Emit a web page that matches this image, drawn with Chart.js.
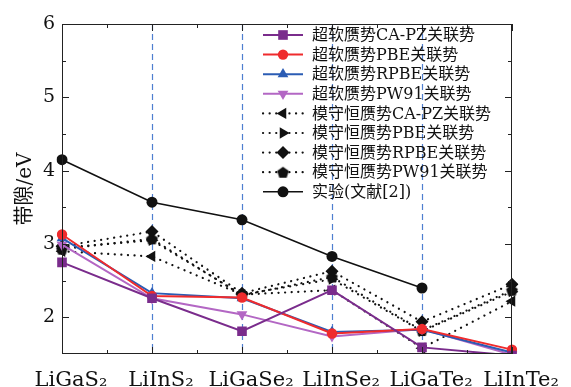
<!DOCTYPE html>
<html>
<head>
<meta charset="utf-8">
<script src="https://cdn.jsdelivr.net/npm/chart.js@4/dist/chart.umd.min.js"></script>
<style>
  html, body { margin: 0; padding: 0; background: #fff; }
  #wrap { width: 571px; height: 387px; }
</style>
</head>
<body>
<div id="wrap"><canvas id="c" width="571" height="387"></canvas></div>
<script>
// Compounds along the x axis
const categories = ['LiGaS\u2082', 'LiInS\u2082', 'LiGaSe\u2082', 'LiInSe\u2082', 'LiGaTe\u2082', 'LiInTe\u2082'];

// Band gaps (eV): ultrasoft pseudopotentials
const usCAPZ = [2.75, 2.26, 1.81, 2.37, 1.59, 1.48];
const usPBE  = [3.13, 2.29, 2.27, 1.78, 1.84, 1.56];
const usRPBE = [3.08, 2.33, 2.26, 1.80, 1.83, 1.52];
const usPW91 = [2.99, 2.26, 2.04, 1.74, 1.84, 1.49];

// Band gaps (eV): norm-conserving pseudopotentials
const ncCAPZ = [2.90, 2.83, 2.31, 2.37, 1.58, 2.22];
const ncPBE  = [2.95, 3.05, 2.31, 2.52, 1.81, 2.35];
const ncRPBE = [2.97, 3.17, 2.33, 2.63, 1.94, 2.45];
const ncPW91 = [2.93, 3.07, 2.30, 2.55, 1.82, 2.37];

// Experimental values (ref. [2]); none for LiInTe2
const expt = [4.15, 3.57, 3.33, 2.83, 2.40, null];

const yTickValues = [2, 3, 4, 5, 6];

const seriesLabels = [
  '超软赝势CA-PZ关联势', '超软赝势PBE关联势', '超软赝势RPBE关联势', '超软赝势PW91关联势',
  '模守恒赝势CA-PZ关联势', '模守恒赝势PBE关联势', '模守恒赝势RPBE关联势', '模守恒赝势PW91关联势',
  '实验(文献[2])'
];

const LATIN = '"DejaVu Serif", "Liberation Serif", "Noto Sans CJK SC", serif';

// small pentagon marker image
function pentagonImage(r, color) {
  const s = Math.ceil(2 * r + 2);
  const c = document.createElement('canvas');
  c.width = s; c.height = s;
  const g = c.getContext('2d');
  g.fillStyle = color;
  g.beginPath();
  for (let k = 0; k < 5; k++) {
    const a = -Math.PI / 2 + k * 2 * Math.PI / 5;
    const px = s / 2 + r * Math.cos(a), py = s / 2 + r * Math.sin(a) + 0.6;
    k ? g.lineTo(px, py) : g.moveTo(px, py);
  }
  g.closePath(); g.fill();
  return c;
}
const pentBlack = pentagonImage(6.2, '#111');

const DOT = [0.1, 6.5];

function solid(label, data, color, style, r, rot) {
  return {
    label, data, borderColor: color, backgroundColor: color,
    pointBackgroundColor: color, pointBorderColor: color,
    borderWidth: 2, pointRadius: r, pointHoverRadius: r, pointStyle: style,
    pointRotation: rot || 0, pointBorderWidth: 0, tension: 0, spanGaps: false
  };
}
function dotted(label, data, style, r, rot) {
  return {
    label, data, borderColor: '#111', backgroundColor: '#111',
    pointBackgroundColor: '#111', pointBorderColor: '#111',
    borderWidth: 2.2, borderDash: DOT, borderCapStyle: 'round',
    pointRadius: r, pointHoverRadius: r, pointStyle: style,
    pointRotation: rot || 0, pointBorderWidth: 0, tension: 0
  };
}

const datasets = [
  solid(seriesLabels[0], usCAPZ, '#7a2c8c', 'rect', 6.8),
  solid(seriesLabels[1], usPBE, '#ef2b2d', 'circle', 5.2),
  solid(seriesLabels[2], usRPBE, '#2b5cb4', 'triangle', 6.2),
  solid(seriesLabels[3], usPW91, '#b367c4', 'triangle', 6.2, 180),
  dotted(seriesLabels[4], ncCAPZ, 'triangle', 6.5, -90),
  dotted(seriesLabels[5], ncPBE, 'triangle', 6.5, 90),
  dotted(seriesLabels[6], ncRPBE, 'rectRot', 6.5),
  dotted(seriesLabels[7], ncPW91, pentBlack, 6.5),
  Object.assign(solid(seriesLabels[8], expt, '#111', 'circle', 5.5), { borderWidth: 1.6 })
];

function drawMarker(ctx, ds, x, y) {
  const style = ds.pointStyle, r = ds.pointRadius, rot = (ds.pointRotation || 0) * Math.PI / 180;
  ctx.save();
  ctx.fillStyle = ds.pointBackgroundColor;
  ctx.setLineDash([]);
  if (typeof style !== 'string') {
    ctx.drawImage(style, x - style.width / 2, y - style.height / 2);
    ctx.restore();
    return;
  }
  ctx.beginPath();
  if (style === 'circle') {
    ctx.arc(x, y, r, 0, Math.PI * 2);
  } else if (style === 'rect') {
    const s = Math.SQRT1_2 * r;
    ctx.rect(x - s, y - s, 2 * s, 2 * s);
  } else if (style === 'rectRot') {
    ctx.moveTo(x, y - r); ctx.lineTo(x + r, y); ctx.lineTo(x, y + r); ctx.lineTo(x - r, y);
  } else if (style === 'triangle') {
    let a = rot;
    ctx.moveTo(x + Math.sin(a) * r, y - Math.cos(a) * r);
    a += 2 * Math.PI / 3;
    ctx.lineTo(x + Math.sin(a) * r, y - Math.cos(a) * r);
    a += 2 * Math.PI / 3;
    ctx.lineTo(x + Math.sin(a) * r, y - Math.cos(a) * r);
  }
  ctx.closePath();
  ctx.fill();
  ctx.restore();
}

const decorations = {
  id: 'decorations',
  beforeDatasetsDraw(chart) {
    const { ctx, chartArea: a, scales: { x } } = chart;
    ctx.save();
    ctx.strokeStyle = '#4f7fd0';
    ctx.lineWidth = 1.2;
    ctx.setLineDash([6, 4]);
    for (let i = 1; i < categories.length - 1; i++) {
      const px = Math.round(x.getPixelForValue(i)) + 0.5;
      ctx.beginPath(); ctx.moveTo(px, a.top); ctx.lineTo(px, a.bottom); ctx.stroke();
    }
    ctx.restore();
  },
  afterDatasetsDraw(chart) {
    const { ctx, chartArea: a, scales: { x, y } } = chart;
    ctx.save();
    ctx.strokeStyle = '#222';
    ctx.lineWidth = 1;
    ctx.setLineDash([]);
    ctx.strokeRect(a.left + 0.5, a.top + 0.5, a.right - a.left - 1, a.bottom - a.top - 1);
    ctx.beginPath();
    // y ticks, both sides, pointing inward
    yTickValues.forEach(v => {
      const py = Math.round(y.getPixelForValue(v)) + 0.5;
      ctx.moveTo(a.left, py); ctx.lineTo(a.left + 7, py);
      ctx.moveTo(a.right, py); ctx.lineTo(a.right - 7, py);
      const pm = Math.round(y.getPixelForValue(v + 0.5)) + 0.5;
      if (v + 0.5 < y.max) {
        ctx.moveTo(a.left, pm); ctx.lineTo(a.left + 4, pm);
        ctx.moveTo(a.right, pm); ctx.lineTo(a.right - 4, pm);
      }
    });
    // x ticks, top and bottom, pointing inward
    for (let i = 0; i < categories.length; i++) {
      const px = Math.round(x.getPixelForValue(i)) + 0.5;
      ctx.moveTo(px, a.bottom); ctx.lineTo(px, a.bottom - 7);
      ctx.moveTo(px, a.top); ctx.lineTo(px, a.top + 7);
      if (i < categories.length - 1) {
        const pm = Math.round((x.getPixelForValue(i) + x.getPixelForValue(i + 1)) / 2) + 0.5;
        ctx.moveTo(pm, a.bottom); ctx.lineTo(pm, a.bottom - 4);
        ctx.moveTo(pm, a.top); ctx.lineTo(pm, a.top + 4);
      }
    }
    ctx.stroke();
    ctx.restore();
  },
  afterDraw(chart) {
    // legend: line sample with marker, then label
    const { ctx } = chart;
    const x0 = 263, x1 = 303, xm = 283, xt = 312, y0 = 35, dy = 19.6;
    chart.data.datasets.forEach((ds, i) => {
      const yy = y0 + i * dy;
      ctx.save();
      ctx.strokeStyle = ds.borderColor;
      ctx.lineWidth = ds.borderWidth;
      ctx.lineCap = ds.borderCapStyle || 'butt';
      ctx.setLineDash(ds.borderDash || []);
      ctx.beginPath(); ctx.moveTo(x0, yy); ctx.lineTo(x1, yy); ctx.stroke();
      ctx.restore();
      drawMarker(ctx, ds, xm, yy);
      ctx.save();
      ctx.fillStyle = '#111';
      ctx.font = '16px ' + LATIN;
      ctx.textBaseline = 'middle';
      ctx.textAlign = 'left';
      ctx.fillText(ds.label, xt, yy + 1);
      ctx.restore();
    });
  }
};

new Chart(document.getElementById('c'), {
  type: 'line',
  data: { labels: categories, datasets },
  options: {
    responsive: false,
    animation: false,
    devicePixelRatio: 1,
    layout: { padding: { top: 24, right: 59, left: 0, bottom: 0 } },
    plugins: { legend: { display: false }, tooltip: { enabled: false } },
    scales: {
      x: {
        type: 'category',
        offset: false,
        grid: { display: false, drawTicks: false },
        border: { display: false },
        ticks: { color: '#111', font: { family: LATIN, size: 21 }, padding: 14, labelOffset: 9, maxRotation: 0, autoSkip: false },
        afterFit(s) { s.height = 33; }
      },
      y: {
        min: 1.5, max: 6,
        grid: { display: false, drawTicks: false },
        border: { display: false },
        ticks: { color: '#111', font: { family: LATIN, size: 19 }, padding: 7 },
        afterBuildTicks(s) { s.ticks = yTickValues.map(v => ({ value: v })); },
        afterFit(s) { s.width = 62; },
        title: { display: true, text: '带隙/eV', color: '#111', font: { family: LATIN, size: 20 }, padding: { top: 14, bottom: 0 } }
      }
    }
  },
  plugins: [decorations]
});
</script>
</body>
</html>
